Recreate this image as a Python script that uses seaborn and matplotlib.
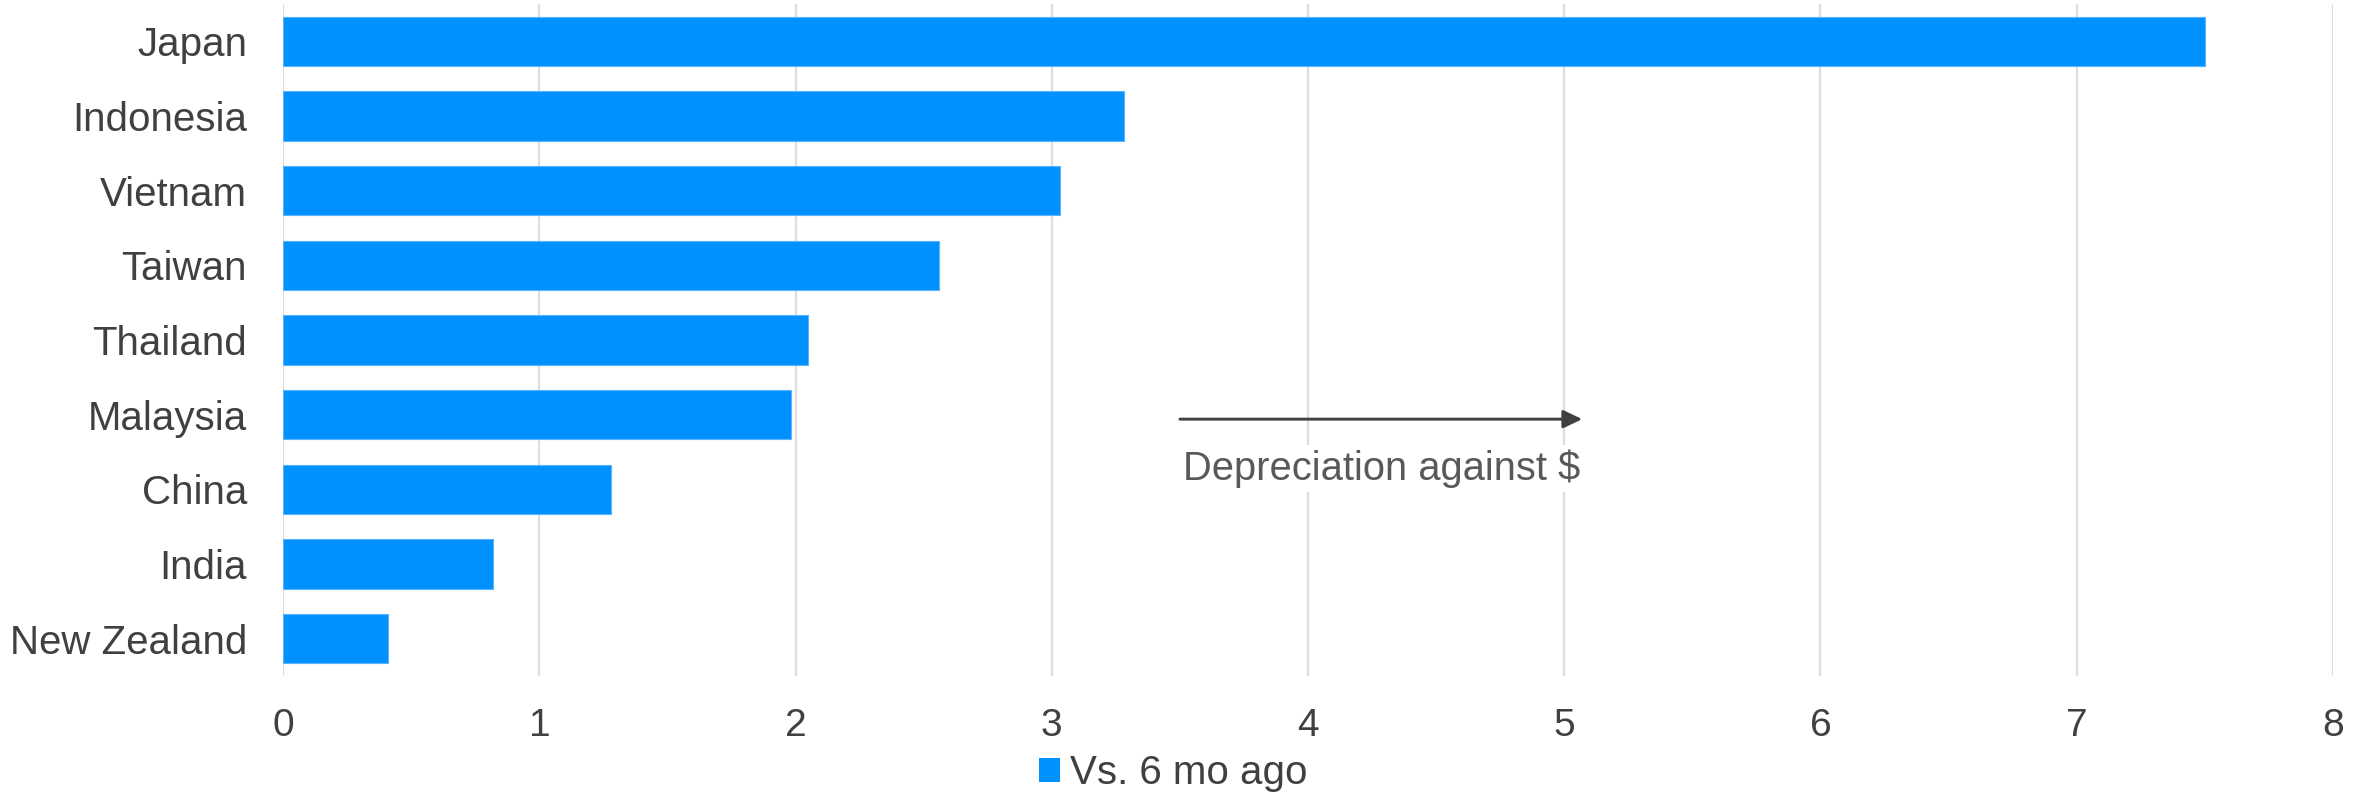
import matplotlib
matplotlib.use("Agg")
import matplotlib.pyplot as plt
from matplotlib.patches import Patch
import seaborn as sns
import pandas as pd

# Currency moves against the US dollar over the past six months
countries = ["Japan", "Indonesia", "Vietnam", "Taiwan", "Thailand",
             "Malaysia", "China", "India", "New Zealand"]
change_6mo = [7.50, 3.28, 3.03, 2.56, 2.05, 1.98, 1.28, 0.82, 0.41]
x_ticks = [0, 1, 2, 3, 4, 5, 6, 7, 8]
series_name = "Vs. 6 mo ago"
note_text = "Depreciation against $"

BAR = "#0091FF"
TEXT = "#404040"
GRID = "#DEDEDE"

sns.set_theme(style="white")
plt.rcParams["font.family"] = ["Liberation Sans", "DejaVu Sans"]

df = pd.DataFrame({"country": countries, "change": change_6mo})

fig = plt.figure(figsize=(23.66, 7.94), dpi=100)
ax = fig.add_axes([0.1197, 0.1486, 0.8663, 0.8464])

sns.barplot(data=df, x="change", y="country", orient="h", color=BAR,
            saturation=1, width=0.663, edgecolor="#5AB4FF", linewidth=0.8,
            ax=ax, zorder=3)

ax.set_xlim(x_ticks[0], x_ticks[-1])
ax.set_ylim(len(countries) - 0.5, -0.5)
ax.set_xticks(x_ticks)
ax.set_xticklabels([str(t) for t in x_ticks])
ax.xaxis.grid(True, color=GRID, linewidth=1.6, zorder=0)
ax.yaxis.grid(False)
ax.set_axisbelow(True)
for s in ax.spines.values():
    s.set_visible(False)
ax.set_xlabel("")
ax.set_ylabel("")
ax.tick_params(axis="y", length=0, pad=26, labelsize=29, labelcolor=TEXT)
ax.tick_params(axis="x", length=0, pad=23, labelsize=28, labelcolor=TEXT)

# Direction arrow and its caption
ax.annotate("", xy=(5.07, 5.06), xytext=(3.50, 5.06),
            arrowprops=dict(arrowstyle="-|>,head_length=1.15,head_width=0.55",
                            mutation_scale=10, color="#404040", lw=2.1,
                            shrinkA=0, shrinkB=0),
            zorder=4)
ax.text(3.51, 5.72, note_text, ha="left", va="center", fontsize=28.7,
        color="#595959", zorder=4,
        bbox=dict(facecolor="white", edgecolor="none", pad=3))

handles = [Patch(facecolor=BAR, edgecolor="none", label=series_name)]
fig.legend(handles=handles, loc="center", bbox_to_anchor=(0.4958, 0.0264),
           frameon=False, fontsize=29, handlelength=0.52, handleheight=0.52,
           handletextpad=0.24, labelcolor=TEXT, borderpad=0)

fig.savefig("out.png", dpi=100)
